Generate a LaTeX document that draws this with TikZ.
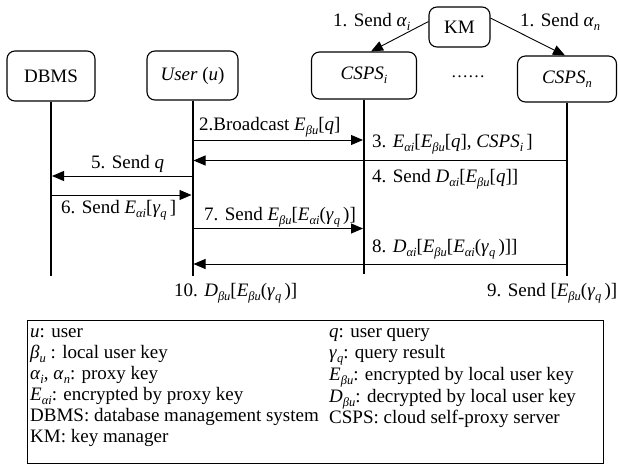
\documentclass[tikz,border=0pt]{standalone}
\usepackage{fontspec}
\setmainfont{Liberation Serif}
\usetikzlibrary{arrows.meta}
% italic variable and lowered italic subscript
\newcommand\vi[1]{\textit{#1}}
\newcommand\sub[1]{\raisebox{-0.22em}{\fontsize{12.5}{12.5}\selectfont\itshape #1}}

\tikzset{
  actor/.style={draw, line width=1.1pt, rounded corners=8pt, inner sep=0pt},
  lifeline/.style={line width=2pt},
  msg/.style={line width=0.9pt, shorten >=1pt, -{Triangle[length=12pt,width=10pt]}},
  lbl/.style={anchor=base west, inner sep=0pt},
}

\begin{document}
\begin{tikzpicture}[x=1pt, y=-1pt, font=\fontsize{19}{21}\selectfont]
\useasboundingbox (0,0) rectangle (618,466);

% participants
\node[actor, minimum width=88pt,  minimum height=50pt] (dbms)  at (51,76)    {DBMS};
\node[actor, minimum width=91pt,  minimum height=49pt] (user)  at (192.5,75.5) {\vi{User} (\vi{u})};
\node[actor, minimum width=105pt, minimum height=47pt] (cspsi) at (364,75.5) {\vi{CSPS}\sub{i}};
\node[actor, minimum width=99pt,  minimum height=46pt] (cspsn) at (567,79)   {\vi{CSPS}\sub{n}};
\node[actor, minimum width=61pt,  minimum height=40pt] (km)    at (459.5,27) {KM};
\node[anchor=base, inner sep=0pt, font=\fontsize{17}{17}\selectfont] (dots) at (468,77) {……};

% lifelines
\coordinate (dbmsend)  at (dbms.south  |- 0,276);
\coordinate (userend)  at (user.south  |- 0,276);
\coordinate (cspsiend) at (cspsi.south |- 0,274);
\coordinate (cspsnend) at (cspsn.south |- 0,276);
\draw[lifeline] (dbms.south)  -- (dbmsend);
\draw[lifeline] (user.south)  -- (userend);
\draw[lifeline] (cspsi.south) -- (cspsiend);
\draw[lifeline] (cspsn.south) -- (cspsnend);

% key distribution
\draw[msg, shorten >=0pt] (km.170) -- (cspsi.north -| 371,0);
\draw[msg, shorten >=0pt] (km.16)  -- (cspsn.north -| 565,0);
\node[lbl] (l1i) at (333,26) {1. Send \vi{α}\sub{i}};
\node[lbl] (l1n) at (520,26) {1. Send \vi{α}\sub{n}};

% messages
\draw[msg] (user.south  |- 0,140)   -- (cspsi.south |- 0,140);
\draw[msg] (cspsn.south |- 0,160.5) -- (user.south  |- 0,160.5);
\draw[msg] (user.south  |- 0,176)   -- (dbms.south  |- 0,176);
\draw[msg] (dbms.south  |- 0,195)   -- (user.south  |- 0,195);
\draw[msg] (user.south  |- 0,228.5) -- (cspsi.south |- 0,228.5);
\draw[msg] (cspsn.south |- 0,264)   -- (user.south  |- 0,264);

\node[lbl] (l2)  at (199,130) {2.Broadcast \vi{E}\sub{βu}[\vi{q}]};
\node[lbl] (l3)  at (372,147) {3. \vi{E}\sub{αi}[\vi{E}\sub{βu}[\vi{q}], \vi{CSPS}\sub{i}\,]};
\node[lbl] (l4)  at (372,182) {4. Send \vi{D}\sub{αi}[\vi{E}\sub{βu}[\vi{q}]]};
\node[lbl] (l5)  at (91,168)  {5. Send \vi{q}};
\node[lbl] (l6)  at (61,213)  {6. Send \vi{E}\sub{αi}[\vi{γ}\sub{q}\,]};
\node[lbl] (l7)  at (204,220) {7. Send \vi{E}\sub{βu}[\vi{E}\sub{αi}(\vi{γ}\sub{q}\,)]};
\node[lbl] (l8)  at (372,252) {8. \vi{D}\sub{αi}[\vi{E}\sub{βu}[\vi{E}\sub{αi}(\vi{γ}\sub{q}\,)]]};
\node[lbl] (l10) at (174,296) {10. \vi{D}\sub{βu}[\vi{E}\sub{βu}(\vi{γ}\sub{q}\,)]};
\node[lbl] (l9)  at (487,296) {9. Send [\vi{E}\sub{βu}(\vi{γ}\sub{q}\,)]};

% legend
\node[draw, line width=1.1pt, inner sep=0pt, minimum width=576pt, minimum height=143pt,
      anchor=north west] (legend) at (27,320) {};
\node[lbl] (g1)  at (30,337)  {\vi{u}: user};
\node[lbl] (g2)  at (30,358)  {\vi{β}\sub{u} : local user key};
\node[lbl] (g3)  at (30,379)  {\vi{α}\sub{i}, \vi{α}\sub{n}: proxy key};
\node[lbl] (g4)  at (30,400)  {\vi{E}\sub{αi}: encrypted by proxy key};
\node[lbl] (g5)  at (30,421)  {DBMS: database management system};
\node[lbl] (g6)  at (30,442)  {KM: key manager};
\node[lbl] (g7)  at (329,337) {\vi{q}: user query};
\node[lbl] (g8)  at (329,358) {\vi{γ}\sub{q}: query result};
\node[lbl] (g9)  at (329,380) {\vi{E}\sub{βu}: encrypted by local user key};
\node[lbl] (g10) at (329,402) {\vi{D}\sub{βu}: decrypted by local user key};
\node[lbl] (g11) at (329,423) {CSPS: cloud self-proxy server};
\end{tikzpicture}
\end{document}
